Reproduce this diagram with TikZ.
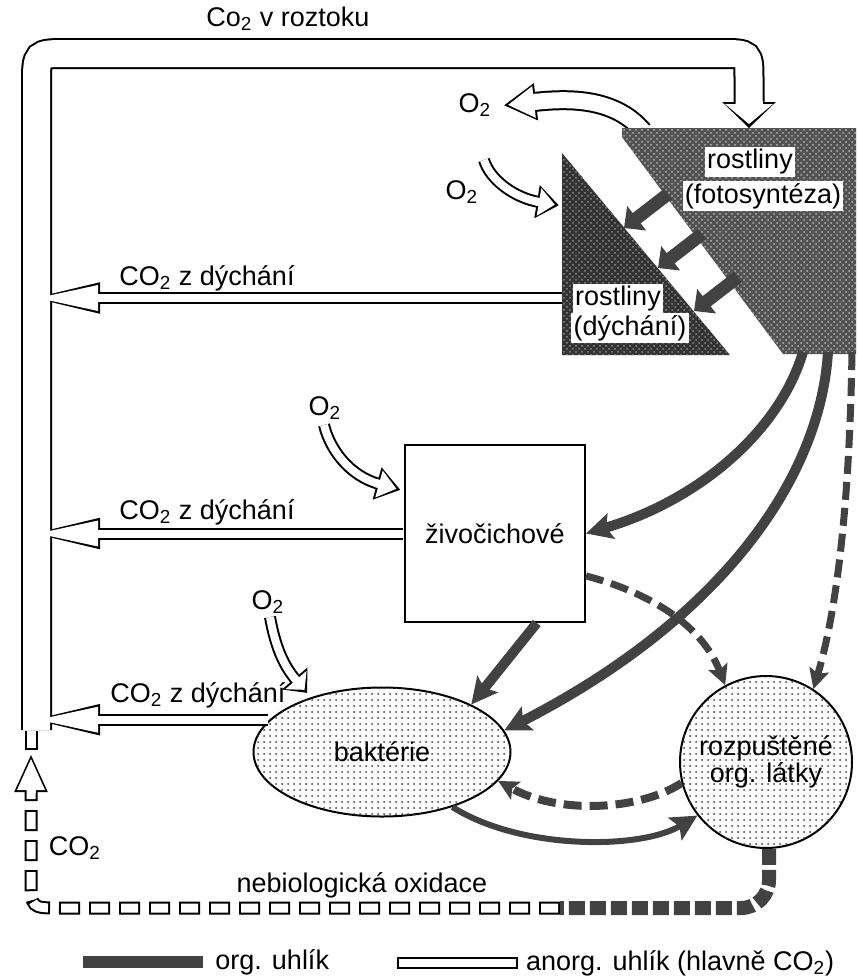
\documentclass[tikz,border=0pt]{standalone}
\usepackage{fontspec}
\setmainfont{Liberation Sans}
\usetikzlibrary{positioning,arrows.meta,calc,patterns,shapes.geometric,decorations.markings}
\definecolor{orgC}{gray}{0.26}
\tikzset{
  chB/.style={draw=black,line width=#1+2pt},
  chW/.style={draw=white,line width=#1},
  hdB/.style n args={3}{postaction={decorate,decoration={markings,
      mark=at position 1 with {\fill[black] (-1pt,{-#2-1.4pt}) -- ({#3+2pt},0pt) -- (-1pt,{#2+1.4pt}) -- cycle;}}}},
  hdW/.style n args={3}{postaction={decorate,decoration={markings,
      mark=at position 1 with {\fill[white] (0pt,-#2) -- (#3,0pt) -- (0pt,#2) -- cycle;
        \fill[white] (-1.6pt,{-#1/2}) rectangle (0.6pt,{#1/2});}}}},
  dsB/.style={draw=black,line width=6.5pt,dash pattern=on 10.5pt off 4.5pt},
  dsW/.style={draw=white,line width=4.5pt,dash pattern=on 8.5pt off 6.5pt,dash phase=14pt},
  org/.style={draw=orgC,line width=5pt,-{Stealth[length=13pt,width=13pt,inset=2.5pt]}},
  orgd/.style={draw=orgC,line width=3.5pt,dash pattern=on 9pt off 4pt,-{Stealth[length=10pt,width=10pt,inset=2pt]}},
  box/.style={draw,line width=1pt,fill=white,minimum width=90pt,minimum height=88.5pt},
  stip/.style={draw,line width=1pt,fill=white,postaction={pattern=dots,pattern color=black!75}},
  lbl/.style={fill=white,inner sep=1.2pt},
}
% dvojite (anorganicke) cesty, nejdriv cerne, pak bile
\newcommand\hollow[1]{%
  \draw[ch#1=13.5pt,hd#1={13.5pt}{12pt}{10pt}] (chanEnd) -- (36.5,84) .. controls (36.5,53.5) .. (67,53.5)
    -- (722,53.5) .. controls (749,53.5) .. (749,80) -- (plantsIn);
  \draw[ch#1=4pt,hd#1={4pt}{6.5pt}{30pt}] (respOut) -- (respOut -| lx);
  \draw[ch#1=4pt,hd#1={4pt}{6.5pt}{30pt}] ([xshift=-0.6pt]zivo.west) -- (zivo.west -| lx);
  \draw[ch#1=4pt,hd#1={4pt}{6.5pt}{30pt}] ([xshift=-0.6pt]bakterie.164) -- (bakterie.164 -| lx);
  \draw[ch#1=8pt,hd#1={8pt}{8pt}{13pt}] (o2outS) .. controls (615,98) and (570,98) .. (o2outE);
  \draw[ch#1=4pt,hd#1={4pt}{7pt}{8pt}] (o2rS) .. controls (490,180) and (515,198) .. (o2rE);
  \draw[ch#1=4pt,hd#1={4pt}{7pt}{9pt}] (o2zS) .. controls (330,450) and (350,476) .. (o2zE);
  \draw[ch#1=4pt,hd#1={4pt}{7pt}{6.5pt}] (o2bS) .. controls (275,645) and (283,665) .. (o2bE);
  \draw[ds#1,hd#1={4.5pt}{7pt}{15.5pt}] (oxM) -- (60,908) .. controls (31,908) .. (31,879) -- (upBase);
  \draw[ds#1] (upTip) -- (chanEnd2);
}

\begin{document}
\begin{tikzpicture}[x=0.5pt,y=-0.5pt,font=\fontsize{13.5}{15}\selectfont]
  \useasboundingbox (0,0) rectangle (858,976);
  % organismy
  \node[box] (zivo) at (495,533.5) {živočichové};
  \node[stip,ellipse,minimum width=128.5pt,minimum height=64.5pt] (bakterie) at (382,752) {baktérie};
  \node[stip,circle,minimum size=86pt,align=center,font=\fontsize{13.5}{12}\selectfont] (rozp) at (766,762) {rozpuštěné\\org. látky};

  \coordinate (lx) at (98,0);
  \coordinate (chanEnd) at (36.5,730);
  \coordinate (chanEnd2) at (31,731);
  \coordinate (plantsIn) at (749,104);
  \coordinate (respOut) at (565,298);
  \coordinate (o2outS) at (643,131); \coordinate (o2outE) at (534,102);
  \coordinate (o2rS) at (484,160);   \coordinate (o2rE) at (539,202);
  \coordinate (o2zS) at (324,425);   \coordinate (o2zE) at (379,484);
  \coordinate (o2bS) at (270,617);   \coordinate (o2bE) at (296,680);
  \coordinate (oxM) at (560,908);
  \coordinate (upBase) at (31,790);  \coordinate (upTip) at (31,750);

  \hollow{B}
  \hollow{W}

  % rostliny
  \fill[black!68,postaction={pattern=crosshatch dots,pattern color=black!30}]
    (622,128) -- (856,128) -- (856,354) -- (783,354) -- (622,137) -- cycle;
  \fill[black!80,postaction={pattern=crosshatch dots,pattern color=black!45}]
    (562,153) -- (730,355) -- (562,355) -- cycle;
  \node[lbl] (fotoA) at (750,162) {rostliny};
  \node[lbl] (fotoB) at (763,196) {(fotosyntéza)};
  \node[lbl] (dychA) at (618,299) {rostliny};
  \node[lbl] (dychB) at (630,328) {(dýchání)};

  \coordinate (f1) at (668,194); \coordinate (d1) at (624,228);
  \coordinate (f2) at (702,234); \coordinate (d2) at (658,268);
  \coordinate (f3) at (738,277); \coordinate (d3) at (694,311);
  \foreach \i in {1,2,3}
    \draw[orgC,line width=6.5pt,-{Triangle[length=8pt,width=15pt]}] (f\i) -- (d\i);

  % organicky uhlik
  \coordinate (pf1) at (803,352);
  \coordinate (pf2) at (828,352);
  \coordinate (pf3) at (852,352);
  \draw[orgd] (pf3) .. controls (850,480) and (840,600) .. (rozp.57);
  \draw[orgd] (zivo.-25) .. controls (640,590) and (700,620) .. (rozp.118);
  \draw[orgd,line width=4pt] (rozp.194) .. controls (640,810) and (560,815) .. (bakterie.-14);
  \draw[org] (pf1) .. controls (780,430) and (700,500) .. (zivo.east);
  \draw[org] (pf2) .. controls (820,480) and (720,620) .. (bakterie.10);
  \draw[org] (zivo.-65) -- (bakterie.28);
  \draw[org,line width=3pt] (bakterie.-38) .. controls (520,850) and (640,850) .. (rozp.218);
  \draw[orgC,line width=7pt,dash pattern=on 8pt off 2.5pt,rounded corners=14pt] (rozp.-88) -- (769,908) -- (oxM);

  % popisky
  \node (roztok) at (288,19) {Co\textsubscript{2} v roztoku};
  \node (o2out) at (475,105) {O\textsubscript{2}};
  \node (o2r) at (462,192) {O\textsubscript{2}};
  \node (dychR) at (207,278) {CO\textsubscript{2} z dýchání};
  \node (o2z) at (325,408) {O\textsubscript{2}};
  \node (dychZ) at (207,512) {CO\textsubscript{2} z dýchání};
  \node (o2b) at (268,602) {O\textsubscript{2}};
  \node (dychB) at (198,695) {CO\textsubscript{2} z dýchání};
  \node (co2) at (75,848) {CO\textsubscript{2}};
  \node (nebio) at (362,885) {nebiologická oxidace};

  % legenda
  \node[fill=orgC,minimum width=60pt,minimum height=6pt,inner sep=0pt] (legOrg) at (143,962) {};
  \node[right=2.5pt of legOrg] (legOrgT) {org. uhlík};
  \node[draw,line width=1pt,minimum width=59.5pt,minimum height=5pt,inner sep=0pt] (legAnorg) at (457.5,963) {};
  \node[right=0.5pt of legAnorg] (legAnorgT) {anorg. uhlík (hlavně CO\textsubscript{2})};
\end{tikzpicture}
\end{document}
